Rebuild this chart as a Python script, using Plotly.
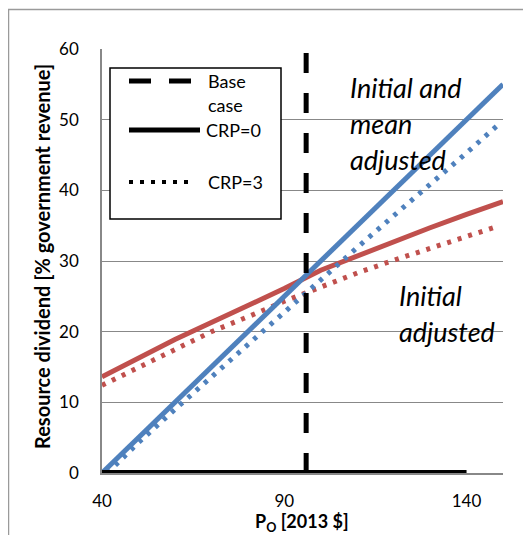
import plotly.graph_objects as go

# ---------------- data ----------------
x_blue_solid = [40, 60, 80, 100, 120, 140, 150]
y_blue_solid = [0, 10, 20, 30, 40, 50, 55]

x_blue_dot = [41.5, 50, 60, 70, 80, 90, 100, 110, 120, 130, 140, 148.5]
y_blue_dot = [0, 4.3, 9.0, 13.6, 18.3, 22.8, 27.4, 31.9, 36.4, 40.8, 45.3, 49.2]

x_red_solid = [40, 50, 60, 70, 80, 90, 100, 110, 120, 130, 140, 150]
y_red_solid = [13.6, 16.3, 18.9, 21.3, 23.7, 26.1, 28.7, 30.7, 32.8, 34.7, 36.6, 38.4]

x_red_dot = [40, 50, 60, 70, 80, 90, 100, 110, 120, 130, 140, 148.5]
y_red_dot = [12.4, 14.9, 17.5, 20.0, 22.1, 24.3, 26.3, 28.3, 30.1, 31.8, 33.6, 34.9]

x_base = [96, 96]
y_base = [0, 60]

x_zero = [40, 140]
y_zero = [0, 0]

x_ticks = [40, 90, 140]
y_ticks = [0, 10, 20, 30, 40, 50, 60]

legend_labels = ["Base<br>case", "CRP=0", "CRP=3"]

BLUE = "#4F81BD"
RED = "#C0504D"
FONT = "Lato"

fig = go.Figure()
fig.add_trace(go.Scatter(x=x_red_solid, y=y_red_solid, mode="lines",
                         line=dict(color=RED, width=5), showlegend=False))
fig.add_trace(go.Scatter(x=x_red_dot, y=y_red_dot, mode="lines",
                         line=dict(color=RED, width=5, dash="4px,7px"), showlegend=False))
fig.add_trace(go.Scatter(x=x_blue_solid, y=y_blue_solid, mode="lines",
                         line=dict(color=BLUE, width=5), showlegend=False))
fig.add_trace(go.Scatter(x=x_blue_dot, y=y_blue_dot, mode="lines",
                         line=dict(color=BLUE, width=5, dash="4px,7px"), showlegend=False))
fig.add_trace(go.Scatter(x=x_zero, y=y_zero, mode="lines",
                         line=dict(color="black", width=6), showlegend=False, cliponaxis=False))
fig.add_trace(go.Scatter(x=x_base, y=y_base, mode="lines",
                         line=dict(color="black", width=5, dash="20px,20px"), showlegend=False))

# page body has an 8px margin: figure starts at window pixel (8, 8)
OFF = 8
# plot area in window pixels: x 102..503, y 49..473
L, R, T, B = 102, 503, 49, 473
W, H = 531 - OFF, 535 - OFF


def px(xp):
    return (xp - L) / (R - L)


def py(yp):
    return (B - yp) / (B - T)


shapes = []
# outer chart border
shapes.append(dict(type="rect", xref="paper", yref="paper",
                   x0=px(8.5), x1=px(545), y0=py(549), y1=py(9.5),
                   line=dict(color="#9a9a9a", width=1.5), layer="below"))
# legend box
shapes.append(dict(type="rect", xref="paper", yref="paper",
                   x0=px(110), x1=px(281), y0=py(219), y1=py(68),
                   line=dict(color="black", width=1.5), fillcolor="white", layer="above"))
# legend symbols
shapes.append(dict(type="line", xref="paper", yref="paper",
                   x0=px(129), x1=px(193), y0=py(81), y1=py(81),
                   line=dict(color="black", width=5, dash="22px,18px")))
shapes.append(dict(type="line", xref="paper", yref="paper",
                   x0=px(129), x1=px(200), y0=py(130), y1=py(130),
                   line=dict(color="black", width=5)))
shapes.append(dict(type="line", xref="paper", yref="paper",
                   x0=px(129), x1=px(195), y0=py(182), y1=py(182),
                   line=dict(color="black", width=4, dash="4px,7px")))

annotations = []
# legend texts
annotations.append(dict(xref="paper", yref="paper", x=px(206), y=py(81), text="Base",
                        showarrow=False, xanchor="left", yanchor="middle",
                        font=dict(family=FONT, size=18, color="black")))
annotations.append(dict(xref="paper", yref="paper", x=px(206), y=py(105), text="case",
                        showarrow=False, xanchor="left", yanchor="middle",
                        font=dict(family=FONT, size=18, color="black")))
annotations.append(dict(xref="paper", yref="paper", x=px(204), y=py(130), text=legend_labels[1],
                        showarrow=False, xanchor="left", yanchor="middle",
                        font=dict(family=FONT, size=18, color="black")))
annotations.append(dict(xref="paper", yref="paper", x=px(206), y=py(182), text=legend_labels[2],
                        showarrow=False, xanchor="left", yanchor="middle",
                        font=dict(family=FONT, size=18, color="black")))

# in-plot italic labels
for txt, yy in [("Initial and", 87), ("mean", 123), ("adjusted", 159)]:
    annotations.append(dict(xref="paper", yref="paper", x=px(348), y=py(yy),
                            text="<i>%s</i>" % txt, showarrow=False,
                            xanchor="left", yanchor="middle",
                            font=dict(family=FONT, size=27, color="black")))
for txt, yy in [("Initial", 295), ("adjusted", 331)]:
    annotations.append(dict(xref="paper", yref="paper", x=px(397), y=py(yy),
                            text="<i>%s</i>" % txt, showarrow=False,
                            xanchor="left", yanchor="middle",
                            font=dict(family=FONT, size=27, color="black")))

# axis titles
annotations.append(dict(xref="paper", yref="paper", x=px(302), y=py(522),
                        text="<b>P<sub>O</sub> [2013 $]</b>", showarrow=False,
                        xanchor="center", yanchor="middle",
                        font=dict(family=FONT, size=18, color="black")))
annotations.append(dict(xref="paper", yref="paper", x=px(42), y=py(257),
                        text="<b>Resource dividend [% government revenue]</b>", showarrow=False,
                        textangle=-90, xanchor="center", yanchor="middle",
                        font=dict(family=FONT, size=20, color="black")))

fig.update_layout(
    width=W, height=H,
    margin=dict(l=L - OFF, r=W - (R - OFF), t=T - OFF, b=H - (B - OFF), pad=0),
    paper_bgcolor="white", plot_bgcolor="white",
    showlegend=False,
    shapes=shapes, annotations=annotations,
    font=dict(family=FONT, size=17, color="black"),
    xaxis=dict(range=[40, 150], tickvals=x_ticks, ticktext=[str(v) for v in x_ticks],
               showgrid=False, zeroline=False, showline=True, linecolor="#888888", linewidth=1.5,
               ticks="", ticklabelstandoff=12, tickfont=dict(family=FONT, size=17, color="black")),
    yaxis=dict(range=[0, 60], tickvals=y_ticks, ticktext=[str(v) for v in y_ticks],
               showgrid=True, gridcolor="#888888", gridwidth=1.2, zeroline=False,
               showline=True, linecolor="#888888", linewidth=1.5,
               ticks="", ticklabelstandoff=18, tickfont=dict(family=FONT, size=17, color="black")),
)

fig.write_html("out.html")
